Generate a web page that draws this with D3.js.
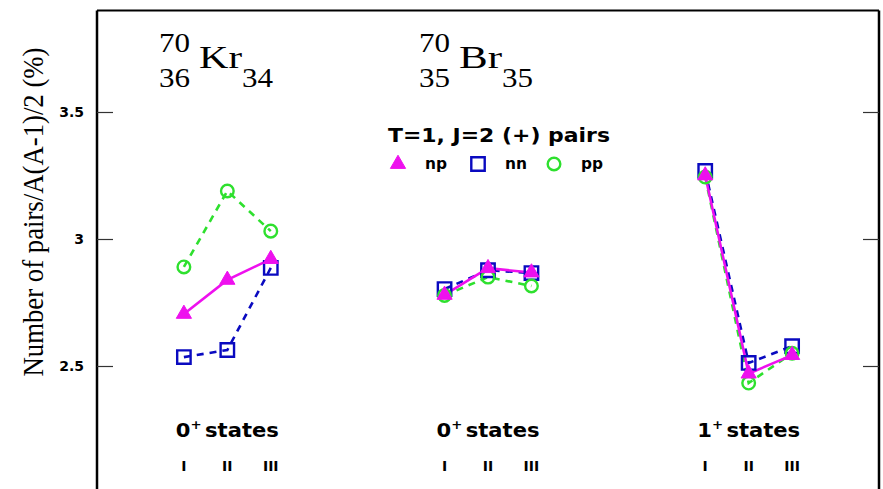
<!DOCTYPE html>
<html>
<head>
<meta charset="utf-8">
<script src="https://cdn.jsdelivr.net/npm/d3@7"></script>
<style>
  html, body { margin: 0; padding: 0; background: #fff; }
  svg { display: block; }
</style>
</head>
<body>
<div id="chart"></div>
<script>
// Groups of states (three configurations each: I, II, III)
const groups = ["0+ states", "0+ states", "1+ states"];
const groupParity = ["0", "0", "1"];
const stateLabels = ["I", "II", "III"];

// Pair numbers per series, one array per group (values in %)
const npValues = [[2.705, 2.839, 2.921], [2.780, 2.885, 2.868], [3.250, 2.470, 2.543]];
const nnValues = [[2.535, 2.563, 2.886], [2.803, 2.877, 2.866], [3.268, 2.512, 2.578]];
const ppValues = [[2.890, 3.189, 3.031], [2.778, 2.850, 2.815], [3.244, 2.433, 2.550]];

const yTicks = [2.5, 3, 3.5];
const yTickLabels = ["2.5", "3", "3.5"];

const W = 883, H = 489;
const svg = d3.select("#chart").append("svg").attr("width", W).attr("height", H);

// Position index: group g, state s -> g*6 + s
const x = d3.scaleLinear().domain([-2, 16]).range([97, 879]);
const y = d3.scaleLinear().domain([2, 3.9]).range([493, 10.4]);

const series = [
  { key: "nn", values: nnValues, color: "#0a0ac0", dash: "7,6", shape: "square" },
  { key: "pp", values: ppValues, color: "#2ee02e", dash: "7,6", shape: "circle" },
  { key: "np", values: npValues, color: "#ee10ee", dash: null, shape: "triangle" }
];

// Frame
const frame = svg.append("g");
frame.append("line").attr("x1", x(-2)).attr("x2", x(-2)).attr("y1", y(3.9)).attr("y2", H + 5)
  .attr("stroke", "#000").attr("stroke-width", 2.5);
frame.append("line").attr("x1", x(16)).attr("x2", x(16)).attr("y1", y(3.9)).attr("y2", H + 5)
  .attr("stroke", "#000").attr("stroke-width", 2.5);
frame.append("line").attr("x1", x(-2)).attr("x2", x(16)).attr("y1", y(3.9)).attr("y2", y(3.9))
  .attr("stroke", "#000").attr("stroke-width", 2);

// Left axis with inward ticks
const leftAxis = d3.axisLeft(y).tickValues(yTicks).tickSize(-16)
  .tickFormat((d, i) => yTickLabels[i]);
const gl = svg.append("g").attr("transform", `translate(${x(-2)},0)`).call(leftAxis);
gl.select(".domain").remove();
gl.selectAll(".tick line").attr("stroke", "#333").attr("stroke-width", 1.2);
gl.selectAll(".tick text").attr("font-family", "DejaVu Sans, Verdana, sans-serif")
  .attr("font-weight", "bold").attr("font-size", 14).attr("fill", "#000")
  .attr("x", -13);

// Right axis: inward ticks only
const rightAxis = d3.axisRight(y).tickValues(yTicks).tickSize(-16).tickFormat("");
const gr = svg.append("g").attr("transform", `translate(${x(16)},0)`).call(rightAxis);
gr.select(".domain").remove();
gr.selectAll(".tick line").attr("stroke", "#333").attr("stroke-width", 1.2);

// Y axis title
svg.append("text")
  .attr("transform", `translate(43,212) rotate(-90)`)
  .attr("text-anchor", "middle")
  .attr("font-family", "Liberation Serif, Times New Roman, serif")
  .attr("font-size", 29)
  .attr("textLength", 329)
  .attr("lengthAdjust", "spacingAndGlyphs")
  .attr("fill", "#000")
  .text("Number of pairs/A(A-1)/2 (%)");

// Nucleus labels
function nucleus(xLeft, mass, z, sym, n) {
  const g = svg.append("g").attr("font-family", "Liberation Serif, Times New Roman, serif").attr("fill", "#000");
  const num = (xx, yy, t) => g.append("text").attr("x", xx).attr("y", yy).attr("font-size", 28)
    .attr("textLength", 31).attr("lengthAdjust", "spacingAndGlyphs").text(t);
  num(xLeft, 52, mass);
  num(xLeft, 87, z);
  g.append("text").attr("x", xLeft + 40).attr("y", 68).attr("font-size", 32)
    .attr("textLength", 43).attr("lengthAdjust", "spacingAndGlyphs").text(sym);
  num(xLeft + 83, 87, n);
}
nucleus(159, "70", "36", "Kr", "34");
nucleus(419, "70", "35", "Br", "35");

// Legend
const heavy = "DejaVu Sans, Verdana, sans-serif";
svg.append("text").attr("x", 388).attr("y", 142)
  .attr("font-family", heavy).attr("font-weight", "900")
  .attr("font-size", 19).attr("textLength", 222).attr("lengthAdjust", "spacingAndGlyphs")
  .attr("fill", "#000").text("T=1, J=2 (+) pairs");

const symbolGen = {
  triangle: d3.symbol().type(d3.symbolTriangle).size(100),
  square: d3.symbol().type(d3.symbolSquare).size(180),
  circle: d3.symbol().type(d3.symbolCircle).size(125)
};
function drawMarker(g, shape, color, cx, cy) {
  const p = g.append("path").attr("d", symbolGen[shape]()).attr("transform", `translate(${cx},${cy})`);
  if (shape === "triangle") p.attr("fill", color).attr("stroke", color).attr("stroke-width", 1);
  else p.attr("fill", "none").attr("stroke", color).attr("stroke-width", 2.4);
}
const legendItems = [
  { shape: "triangle", color: "#ee10ee", label: "np", x: 398 },
  { shape: "square", color: "#0a0ac0", label: "nn", x: 478 },
  { shape: "circle", color: "#2ee02e", label: "pp", x: 554 }
];
const lg = svg.append("g");
legendItems.forEach(it => {
  drawMarker(lg, it.shape, it.color, it.x, 164);
  lg.append("text").attr("x", it.x + 27).attr("y", 169)
    .attr("font-family", heavy).attr("font-weight", "bold")
    .attr("font-size", 15).attr("textLength", 22).attr("lengthAdjust", "spacingAndGlyphs")
    .attr("fill", "#000").text(it.label);
});

// Lines and markers
const line = d3.line().x(d => x(d.p)).y(d => y(d.v));
const plot = svg.append("g");
series.forEach(s => {
  s.values.forEach((vals, g) => {
    const pts = vals.map((v, i) => ({ p: g * 6 + i, v }));
    const path = plot.append("path").datum(pts).attr("d", line)
      .attr("fill", "none").attr("stroke", s.color).attr("stroke-width", 2.6);
    if (s.dash) path.attr("stroke-dasharray", s.dash);
  });
});
series.forEach(s => {
  s.values.forEach((vals, g) => {
    vals.forEach((v, i) => drawMarker(plot, s.shape, s.color, x(g * 6 + i), y(v)));
  });
});

// Group labels and state numerals
groups.forEach((name, g) => {
  const left = x(g * 6) - 8;
  const t = svg.append("text").attr("x", left).attr("y", 437)
    .attr("font-family", heavy).attr("font-weight", "900").attr("font-size", 19)
    .attr("fill", "#000");
  t.append("tspan").text(groupParity[g]);
  t.append("tspan").attr("font-size", 12).attr("dy", -8).text("+");
  t.append("tspan").attr("dy", 8).attr("dx", 3).text("states");
  // stretch to the drawn width
  const w = t.node().getComputedTextLength();
  t.attr("transform", `translate(${left},0) scale(${103 / (w + 3)},1) translate(${-left},0)`);
  stateLabels.forEach((lab, i) => {
    svg.append("text").attr("x", x(g * 6 + i)).attr("y", 471).attr("text-anchor", "middle")
      .attr("font-family", heavy).attr("font-weight", "bold").attr("font-size", 14)
      .attr("fill", "#000").text(lab);
  });
});
</script>
</body>
</html>
